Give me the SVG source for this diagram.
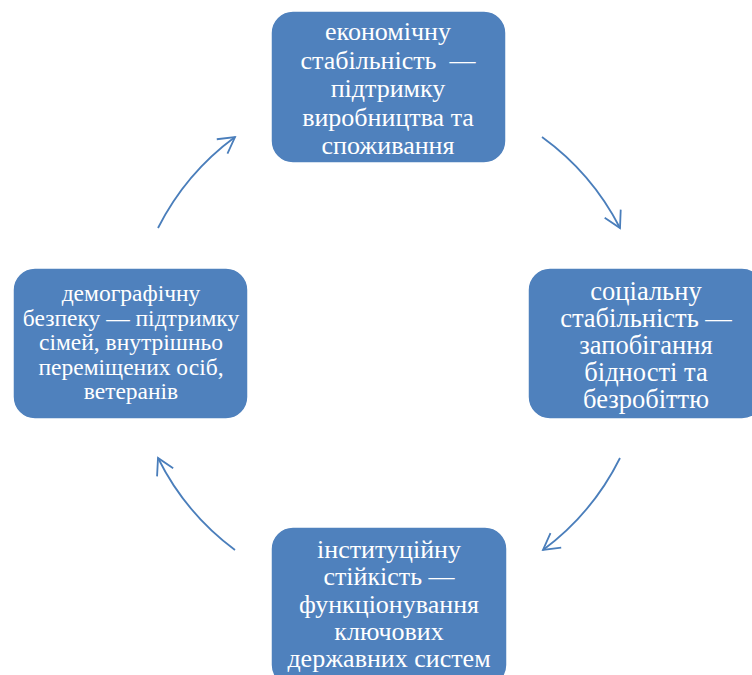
<svg xmlns="http://www.w3.org/2000/svg" width="752" height="675" viewBox="0 0 752 675">
<defs>
<marker id="ah" markerUnits="userSpaceOnUse" markerWidth="22" markerHeight="22" viewBox="0 0 22 22" refX="19" refY="11" orient="auto">
<path d="M3,2 L19,11 L3,20" fill="none" stroke="#4a7ebb" stroke-width="1.8"/>
</marker>
</defs>
<rect width="752" height="675" fill="#ffffff"/>
<g id="connectors" fill="none" stroke="#4a7ebb" stroke-width="1.8" marker-end="url(#ah)">
<path d="M542,137 A257,257 0 0 1 620,228"/>
<path d="M620,458 A257,257 0 0 1 543,550"/>
<path d="M235,550 A257,257 0 0 1 158,458"/>
<path d="M158,228 A257,257 0 0 1 235,137"/>
</g>
<g id="node-economic">
<rect x="271" y="11" width="235" height="152" rx="22" fill="#4f81bd" stroke="#ffffff" stroke-width="1.5"/>
<g font-family="Liberation Serif" font-size="26" fill="#ffffff" text-anchor="middle">
<text x="388" y="40">економічну</text>
<text x="388" y="68.5" xml:space="preserve">стабільність  —</text>
<text x="388" y="97">підтримку</text>
<text x="388" y="125.5">виробництва та</text>
<text x="388" y="154">споживання</text>
</g>
</g>
<g id="node-social">
<rect x="528" y="268" width="236" height="151" rx="22" fill="#4f81bd" stroke="#ffffff" stroke-width="1.5"/>
<g font-family="Liberation Serif" font-size="26.5" fill="#ffffff" text-anchor="middle">
<text x="646" y="300">соціальну</text>
<text x="646" y="327">стабільність —</text>
<text x="646" y="354">запобігання</text>
<text x="646" y="381">бідності та</text>
<text x="646" y="408">безробіттю</text>
</g>
</g>
<g id="node-institutional">
<rect x="271" y="527" width="236" height="160" rx="22" fill="#4f81bd" stroke="#ffffff" stroke-width="1.5"/>
<g font-family="Liberation Serif" font-size="26" fill="#ffffff" text-anchor="middle">
<text x="389" y="558">інституційну</text>
<text x="389" y="585">стійкість —</text>
<text x="389" y="612.5">функціонування</text>
<text x="389" y="639.5">ключових</text>
<text x="389" y="667">державних систем</text>
</g>
</g>
<g id="node-demographic">
<rect x="13" y="268" width="235" height="151" rx="22" fill="#4f81bd" stroke="#ffffff" stroke-width="1.5"/>
<g font-family="Liberation Serif" font-size="23.5" fill="#ffffff" text-anchor="middle">
<text x="131" y="301">демографічну</text>
<text x="131" y="325.5">безпеку — підтримку</text>
<text x="131" y="350">сімей, внутрішньо</text>
<text x="131" y="374.5">переміщених осіб,</text>
<text x="131" y="399">ветеранів</text>
</g>
</g>
</svg>
